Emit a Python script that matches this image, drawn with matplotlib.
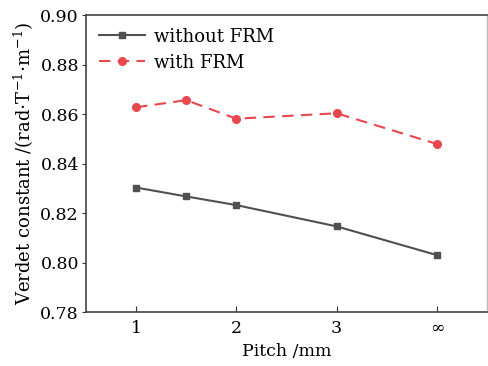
import matplotlib
matplotlib.use("Agg")
import matplotlib.pyplot as plt

x_pos = [1, 1.5, 2, 3, 4]
tick_pos = [1, 2, 3, 4]
tick_labels = ["1", "2", "3", "∞"]
without_frm = [0.8303, 0.8267, 0.8232, 0.8146, 0.8030]
with_frm = [0.8627, 0.8656, 0.8581, 0.8603, 0.8479]

plt.rcParams['font.family'] = ['DejaVu Serif']
plt.rcParams['mathtext.fontset'] = 'dejavuserif'

fig = plt.figure(figsize=(4.88, 3.66), dpi=100)
ax = fig.add_axes([0.176, 0.1475, 0.822, 0.8115])

ax.plot(x_pos, without_frm, color='#505050', marker='s', markersize=5, lw=1.5, label='without FRM')
ax.plot(x_pos, with_frm, color='#e8474c', marker='o', markersize=5.5, lw=1.5, ls=(0, (5.5, 3.5)), label='with FRM')

ax.set_xlim(0.5, 4.5)
ax.set_ylim(0.78, 0.90)
ax.set_xticks(tick_pos)
ax.set_xticklabels(tick_labels)
ax.set_yticks([0.78, 0.80, 0.82, 0.84, 0.86, 0.88, 0.90])
ax.set_yticklabels([f"{v:.2f}" for v in [0.78, 0.80, 0.82, 0.84, 0.86, 0.88, 0.90]])
ax.tick_params(axis='x', direction='in', length=4, labelsize=12.5, pad=6, color='#333333')
ax.tick_params(axis='y', direction='out', length=3, labelsize=12.5, pad=2, color='#333333')

for s in ['left', 'bottom', 'top']:
    ax.spines[s].set_color('#444444')
    ax.spines[s].set_linewidth(1.2)
ax.spines['right'].set_color('#bbbbbb')
ax.spines['right'].set_linewidth(1.0)

ax.set_xlabel('Pitch /mm', fontsize=12.5, labelpad=4)
ax.set_ylabel(r'Verdet constant /(rad$\cdot$T$^{-1}$$\cdot$m$^{-1}$)', fontsize=13, labelpad=3)

leg = ax.legend(loc='upper left', frameon=False, fontsize=13, handlelength=2.6,
                borderaxespad=0.3, labelspacing=0.45, handletextpad=0.5)

fig.savefig('out.png', dpi=100)
